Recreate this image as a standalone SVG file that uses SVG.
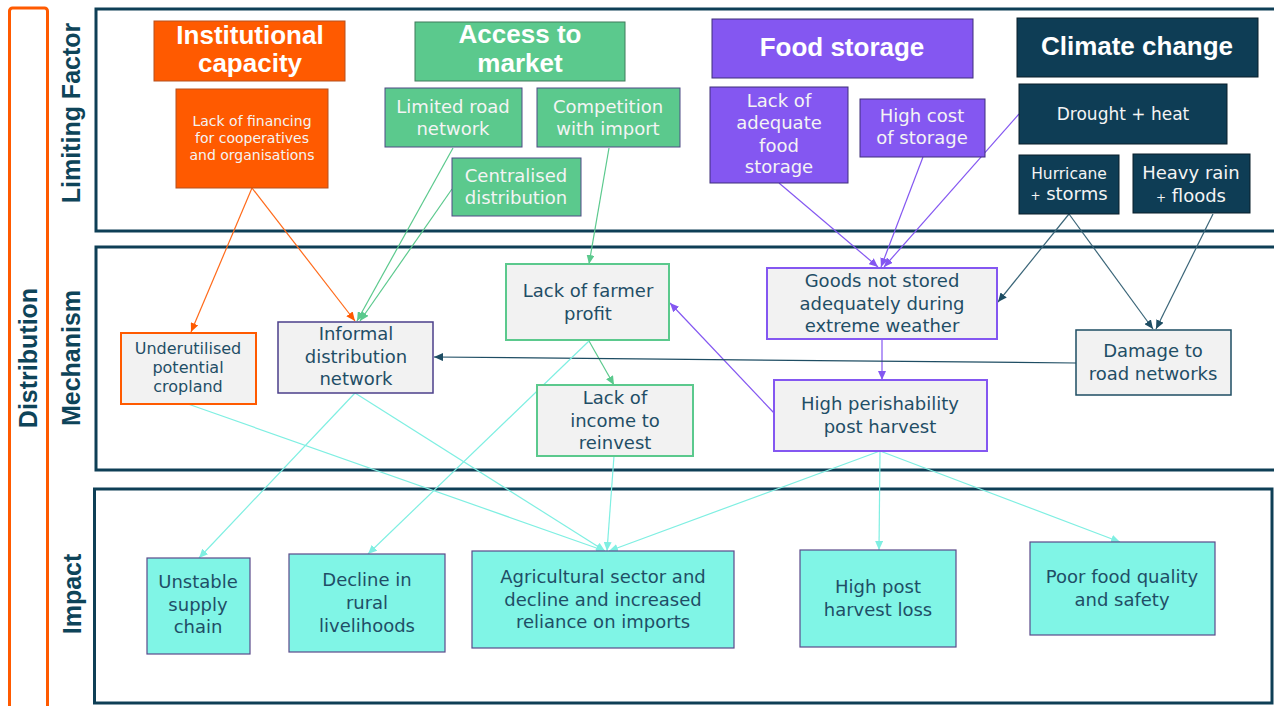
<svg xmlns="http://www.w3.org/2000/svg" width="1274" height="706" viewBox="0 0 1274 706">
<style>
.sec{fill:none;stroke:#0E3F56;stroke-width:3}
.lbl{font-family:"Liberation Sans",Arial,sans-serif;font-weight:bold;font-size:25px;fill:#0E4459;text-anchor:middle}
.hd{font-family:"Liberation Sans",Arial,sans-serif;font-weight:bold;font-size:26px;fill:#ffffff;text-anchor:middle}
.t{font-family:"DejaVu Sans",sans-serif;font-size:18px;text-anchor:middle}
.w{fill:#F4F4F4}
.d{fill:#1F4E66}
.or{fill:#FF5A00;stroke:#B5501E;stroke-width:1}
.gr{fill:#5BC98D;stroke:#4E4A85;stroke-width:1}
.grh{fill:#5BC98D;stroke:#3F7A5B;stroke-width:1}
.pu{fill:#8457F1;stroke:#3F2E7A;stroke-width:1}
.dk{fill:#0E3D55;stroke:#081E2A;stroke-width:1}
.mo{fill:#F2F2F2;stroke:#FF5A00;stroke-width:2}
.mg{fill:#F2F2F2;stroke:#5BC98D;stroke-width:2}
.mp{fill:#F2F2F2;stroke:#8457F1;stroke-width:2}
.mv{fill:#F2F2F2;stroke:#4B3F8A;stroke-width:1.5}
.md{fill:#F2F2F2;stroke:#1E4D63;stroke-width:1.5}
.aq{fill:#80F5E6;stroke:#5A4A8A;stroke-width:1.2}
.c{fill:none;stroke-width:1.2}
</style>
<defs>
<marker id="ao" markerUnits="userSpaceOnUse" markerWidth="10" markerHeight="8" refX="9" refY="4" orient="auto"><path d="M0,0 L9,4 L0,8 z" fill="#FF5A00"/></marker>
<marker id="ag" markerUnits="userSpaceOnUse" markerWidth="10" markerHeight="8" refX="9" refY="4" orient="auto"><path d="M0,0 L9,4 L0,8 z" fill="#5BC98D"/></marker>
<marker id="ap" markerUnits="userSpaceOnUse" markerWidth="10" markerHeight="8" refX="9" refY="4" orient="auto"><path d="M0,0 L9,4 L0,8 z" fill="#8457F1"/></marker>
<marker id="ad" markerUnits="userSpaceOnUse" markerWidth="10" markerHeight="8" refX="9" refY="4" orient="auto"><path d="M0,0 L9,4 L0,8 z" fill="#1E4D63"/></marker>
<marker id="ac" markerUnits="userSpaceOnUse" markerWidth="10" markerHeight="8" refX="9" refY="4" orient="auto"><path d="M0,0 L9,4 L0,8 z" fill="#7FEFE2"/></marker>
</defs>
<rect width="1274" height="706" fill="#ffffff"/>

<g id="frame">
<rect x="9.5" y="8" width="38" height="720" rx="3" fill="none" stroke="#FF5A00" stroke-width="3"/>
<text class="lbl" transform="translate(37,358) rotate(-90)">Distribution</text>
<rect class="sec" x="96" y="9" width="1190" height="222"/>
<rect class="sec" x="96" y="247" width="1190" height="223"/>
<rect class="sec" x="94.5" y="489" width="1177.5" height="214"/>
<text class="lbl" transform="translate(80,113) rotate(-90)">Limiting Factor</text>
<text class="lbl" transform="translate(80,358) rotate(-90)">Mechanism</text>
<text class="lbl" transform="translate(81,594) rotate(-90)">Impact</text>
</g>

<g id="connectors">
<path class="c" stroke="#FF6A1A" marker-end="url(#ao)" d="M252,188 L191,332"/>
<path class="c" stroke="#FF6A1A" marker-end="url(#ao)" d="M252,188 L355,321"/>
<path class="c" stroke="#5BC98D" marker-end="url(#ag)" d="M453,148 L357,321"/>
<path class="c" stroke="#5BC98D" marker-end="url(#ag)" d="M452,189 L360,321"/>
<path class="c" stroke="#5BC98D" marker-end="url(#ag)" d="M609,148 L589,264"/>
<path class="c" stroke="#5BC98D" marker-end="url(#ag)" d="M589,341 L614,385"/>
<path class="c" stroke="#8457F1" marker-end="url(#ap)" d="M779,183 L878,267"/>
<path class="c" stroke="#8457F1" marker-end="url(#ap)" d="M923,157 L881,267"/>
<path class="c" stroke="#8457F1" marker-end="url(#ap)" d="M1019,114 L884,267"/>
<path class="c" stroke="#8457F1" marker-end="url(#ap)" d="M882,339 L882,380"/>
<path class="c" stroke="#8457F1" marker-end="url(#ap)" d="M774,413 L670,303"/>
<path class="c" stroke="#3A6578" marker-end="url(#ad)" d="M1069,214 L998,302"/>
<path class="c" stroke="#3A6578" marker-end="url(#ad)" d="M1069,214 L1153,329"/>
<path class="c" stroke="#3A6578" marker-end="url(#ad)" d="M1213,214 L1156,329"/>
<path class="c" stroke="#1E4D63" marker-end="url(#ad)" d="M1076,363 L434,357"/>
<path class="c" stroke="#7FEFE2" marker-end="url(#ac)" d="M188,404 L605,551"/>
<path class="c" stroke="#7FEFE2" marker-end="url(#ac)" d="M355,393 L199,558"/>
<path class="c" stroke="#7FEFE2" marker-end="url(#ac)" d="M355,393 L605,551"/>
<path class="c" stroke="#7FEFE2" marker-end="url(#ac)" d="M589,341 L368,554"/>
<path class="c" stroke="#7FEFE2" marker-end="url(#ac)" d="M614,456 L607,551"/>
<path class="c" stroke="#7FEFE2" marker-end="url(#ac)" d="M880,451 L609,551"/>
<path class="c" stroke="#7FEFE2" marker-end="url(#ac)" d="M880,451 L879,550"/>
<path class="c" stroke="#7FEFE2" marker-end="url(#ac)" d="M880,451 L1120,542"/>
</g>

<g id="institutional-capacity">
<rect class="or" x="154" y="21" width="191" height="60"/>
<text class="hd" x="250" y="44">Institutional</text>
<text class="hd" x="250" y="72">capacity</text>
</g>
<g id="lack-of-financing">
<rect class="or" x="176" y="89" width="152" height="99"/>
<text class="t w" style="font-size:14px" x="252" y="126">Lack of financing</text>
<text class="t w" style="font-size:14px" x="252" y="143">for cooperatives</text>
<text class="t w" style="font-size:14px" x="252" y="160">and organisations</text>
</g>
<g id="access-to-market">
<rect class="grh" x="415" y="22" width="210" height="59"/>
<text class="hd" x="520" y="43">Access to</text>
<text class="hd" x="520" y="72">market</text>
</g>
<g id="limited-road-network">
<rect class="gr" x="385" y="88" width="137" height="59"/>
<text class="t w" x="453" y="113">Limited road</text>
<text class="t w" x="453" y="135">network</text>
</g>
<g id="competition-with-import">
<rect class="gr" x="537" y="88" width="143" height="59"/>
<text class="t w" x="608" y="113">Competition</text>
<text class="t w" x="608" y="135">with import</text>
</g>
<g id="centralised-distribution">
<rect class="gr" x="452" y="158" width="129" height="58"/>
<text class="t w" x="516" y="182">Centralised</text>
<text class="t w" x="516" y="204">distribution</text>
</g>
<g id="food-storage">
<rect class="pu" x="712" y="19" width="261" height="59"/>
<text class="hd" x="842" y="56">Food storage</text>
</g>
<g id="lack-of-adequate-food-storage">
<rect class="pu" x="710" y="87" width="138" height="96"/>
<text class="t w" x="779" y="107">Lack of</text>
<text class="t w" x="779" y="129">adequate</text>
<text class="t w" x="779" y="152">food</text>
<text class="t w" x="779" y="173">storage</text>
</g>
<g id="high-cost-of-storage">
<rect class="pu" x="860" y="99" width="125" height="58"/>
<text class="t w" x="922" y="122">High cost</text>
<text class="t w" x="922" y="144">of storage</text>
</g>
<g id="climate-change">
<rect class="dk" x="1017" y="18" width="241" height="59"/>
<text class="hd" x="1137" y="55">Climate change</text>
</g>
<g id="drought-heat">
<rect class="dk" x="1019" y="84" width="208" height="60"/>
<text class="t w" style="font-size:17px" x="1123" y="120">Drought + heat</text>
</g>
<g id="hurricane-storms">
<rect class="dk" x="1019" y="155" width="100" height="59"/>
<text class="t w" style="font-size:15.5px" x="1069" y="179">Hurricane</text>
<text class="t w" x="1069" y="200"><tspan style="font-size:12px">+</tspan> storms</text>
</g>
<g id="heavy-rain-floods">
<rect class="dk" x="1133" y="154" width="117" height="59"/>
<text class="t w" x="1191" y="179">Heavy rain</text>
<text class="t w" x="1191" y="202"><tspan style="font-size:12px">+</tspan> floods</text>
</g>

<g id="underutilised-cropland">
<rect class="mo" x="121" y="333" width="135" height="71"/>
<text class="t d" style="font-size:16px" x="188" y="354">Underutilised</text>
<text class="t d" style="font-size:16px" x="188" y="373">potential</text>
<text class="t d" style="font-size:16px" x="188" y="392">cropland</text>
</g>
<g id="informal-distribution-network">
<rect class="mv" x="278" y="322" width="155" height="71"/>
<text class="t d" x="356" y="340">Informal</text>
<text class="t d" x="356" y="363">distribution</text>
<text class="t d" x="356" y="385">network</text>
</g>
<g id="lack-of-farmer-profit">
<rect class="mg" x="506" y="264" width="163" height="76"/>
<text class="t d" x="588" y="297">Lack of farmer</text>
<text class="t d" x="588" y="320">profit</text>
</g>
<g id="lack-of-income">
<rect class="mg" x="537" y="385" width="156" height="71"/>
<text class="t d" x="615" y="404">Lack of</text>
<text class="t d" x="615" y="427">income to</text>
<text class="t d" x="615" y="449">reinvest</text>
</g>
<g id="goods-not-stored">
<rect class="mp" x="767" y="268" width="230" height="71"/>
<text class="t d" x="882" y="287">Goods not stored</text>
<text class="t d" x="882" y="310">adequately during</text>
<text class="t d" x="882" y="332">extreme weather</text>
</g>
<g id="high-perishability">
<rect class="mp" x="774" y="380" width="213" height="71"/>
<text class="t d" x="880" y="410">High perishability</text>
<text class="t d" x="880" y="433">post harvest</text>
</g>
<g id="damage-to-road-networks">
<rect class="md" x="1076" y="330" width="155" height="65"/>
<text class="t d" x="1153" y="357">Damage to</text>
<text class="t d" x="1153" y="380">road networks</text>
</g>

<g id="unstable-supply-chain">
<rect class="aq" x="147" y="558" width="103" height="96"/>
<text class="t d" x="198" y="588">Unstable</text>
<text class="t d" x="198" y="611">supply</text>
<text class="t d" x="198" y="633">chain</text>
</g>
<g id="decline-rural-livelihoods">
<rect class="aq" x="289" y="554" width="156" height="98"/>
<text class="t d" x="367" y="586">Decline in</text>
<text class="t d" x="367" y="609">rural</text>
<text class="t d" x="367" y="632">livelihoods</text>
</g>
<g id="agricultural-sector">
<rect class="aq" x="472" y="551" width="262" height="97"/>
<text class="t d" x="603" y="583">Agricultural sector and</text>
<text class="t d" x="603" y="606">decline and increased</text>
<text class="t d" x="603" y="628">reliance on imports</text>
</g>
<g id="high-post-harvest-loss">
<rect class="aq" x="800" y="550" width="156" height="97"/>
<text class="t d" x="878" y="593">High post</text>
<text class="t d" x="878" y="616">harvest loss</text>
</g>
<g id="poor-food-quality">
<rect class="aq" x="1030" y="542" width="185" height="93"/>
<text class="t d" x="1122" y="583">Poor food quality</text>
<text class="t d" x="1122" y="606">and safety</text>
</g>
</svg>
